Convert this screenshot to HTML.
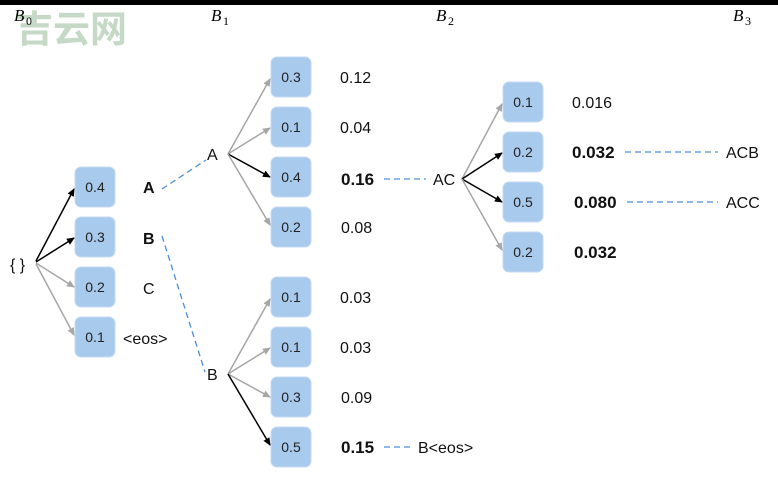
<!DOCTYPE html><html><head><style>body{margin:0;background:#fff}svg{display:block}</style></head><body>
<svg width="778" height="500" viewBox="0 0 778 500" xmlns="http://www.w3.org/2000/svg" font-family="Liberation Sans, sans-serif">
<defs>
<marker id="k" markerWidth="8" markerHeight="8" refX="7" refY="4" orient="auto" markerUnits="userSpaceOnUse"><path d="M0,0.5 L8,4 L0,7.5z" fill="#000"/></marker>
<marker id="g" markerWidth="8" markerHeight="8" refX="7" refY="4" orient="auto" markerUnits="userSpaceOnUse"><path d="M0,0.5 L8,4 L0,7.5z" fill="#a6a6a6"/></marker>
</defs>
<rect x="0" y="0" width="778" height="5" fill="#000"/>
<text x="16" y="42" font-family="Noto Sans CJK SC, sans-serif" font-size="37" font-weight="bold" fill="#c5d9c6" letter-spacing="0">吉云网</text>
<g font-family="Liberation Serif, serif" font-style="italic" font-size="17">
<text x="14" y="21">B</text><text x="26" y="25" font-size="12" font-style="normal">0</text>
<text x="211" y="21">B</text><text x="223" y="25" font-size="12" font-style="normal">1</text>
<text x="436" y="21">B</text><text x="448" y="25" font-size="12" font-style="normal">2</text>
<text x="733" y="21">B</text><text x="745" y="25" font-size="12" font-style="normal">3</text>
</g>
<g stroke-width="1.5" fill="none">
<line x1="36" y1="261" x2="74" y2="189" stroke="#000" marker-end="url(#k)"/>
<line x1="36" y1="262" x2="74" y2="238" stroke="#000" marker-end="url(#k)"/>
<line x1="36" y1="263" x2="74" y2="287" stroke="#a6a6a6" marker-end="url(#g)"/>
<line x1="36" y1="264" x2="74" y2="335" stroke="#a6a6a6" marker-end="url(#g)"/>
<line x1="228" y1="154" x2="270" y2="79" stroke="#a6a6a6" marker-end="url(#g)"/>
<line x1="228" y1="154" x2="270" y2="128" stroke="#a6a6a6" marker-end="url(#g)"/>
<line x1="228" y1="154" x2="270" y2="177" stroke="#000" marker-end="url(#k)"/>
<line x1="228" y1="154" x2="270" y2="225" stroke="#a6a6a6" marker-end="url(#g)"/>
<line x1="228" y1="374" x2="270" y2="299" stroke="#a6a6a6" marker-end="url(#g)"/>
<line x1="228" y1="374" x2="270" y2="348" stroke="#a6a6a6" marker-end="url(#g)"/>
<line x1="228" y1="374" x2="270" y2="397" stroke="#a6a6a6" marker-end="url(#g)"/>
<line x1="228" y1="374" x2="270" y2="445" stroke="#000" marker-end="url(#k)"/>
<line x1="462" y1="179" x2="502" y2="104" stroke="#a6a6a6" marker-end="url(#g)"/>
<line x1="462" y1="179" x2="502" y2="153" stroke="#000" marker-end="url(#k)"/>
<line x1="462" y1="179" x2="502" y2="202" stroke="#000" marker-end="url(#k)"/>
<line x1="462" y1="179" x2="502" y2="250" stroke="#a6a6a6" marker-end="url(#g)"/>
</g>
<g stroke="#4a8fd9" stroke-width="1.3" stroke-dasharray="6,4" fill="none">
<line x1="162" y1="189" x2="206" y2="160"/>
<line x1="162" y1="236" x2="205" y2="372"/>
<line x1="384" y1="179" x2="426" y2="179"/>
<line x1="625" y1="152" x2="718" y2="152"/>
<line x1="627" y1="202" x2="718" y2="202"/>
<line x1="384" y1="447" x2="412" y2="447"/>
</g>
<g fill="#a8caec" stroke="#c4dbf3" stroke-width="1">
<rect x="75" y="167" width="40" height="40" rx="6"/><rect x="75" y="217" width="40" height="40" rx="6"/><rect x="75" y="267" width="40" height="40" rx="6"/><rect x="75" y="317" width="40" height="40" rx="6"/>
<rect x="271" y="57" width="40" height="40" rx="6"/><rect x="271" y="107" width="40" height="40" rx="6"/><rect x="271" y="157" width="40" height="40" rx="6"/><rect x="271" y="207" width="40" height="40" rx="6"/>
<rect x="271" y="277" width="40" height="40" rx="6"/><rect x="271" y="327" width="40" height="40" rx="6"/><rect x="271" y="377" width="40" height="40" rx="6"/><rect x="271" y="427" width="40" height="40" rx="6"/>
<rect x="503" y="82" width="40" height="40" rx="6"/><rect x="503" y="132" width="40" height="40" rx="6"/><rect x="503" y="182" width="40" height="40" rx="6"/><rect x="503" y="232" width="40" height="40" rx="6"/>
</g>
<g font-size="14" text-anchor="middle" fill="#222">
<text x="95" y="192">0.4</text><text x="95" y="242">0.3</text><text x="95" y="292">0.2</text><text x="95" y="342">0.1</text>
<text x="291" y="82">0.3</text><text x="291" y="132">0.1</text><text x="291" y="182">0.4</text><text x="291" y="232">0.2</text>
<text x="291" y="302">0.1</text><text x="291" y="352">0.1</text><text x="291" y="402">0.3</text><text x="291" y="452">0.5</text>
<text x="523" y="107">0.1</text><text x="523" y="157">0.2</text><text x="523" y="207">0.5</text><text x="523" y="257">0.2</text>
</g>
<g font-size="16" fill="#111">
<text x="10" y="270">{ }</text>
<text x="143" y="193" font-weight="bold">A</text>
<text x="143" y="244" font-weight="bold">B</text>
<text x="143" y="294">C</text>
<text x="123" y="344">&lt;eos&gt;</text>
<text x="207" y="160">A</text>
<text x="207" y="380">B</text>
<text x="433" y="185">AC</text>
<text x="340" y="83">0.12</text><text x="340" y="133">0.04</text><text x="341" y="185" font-weight="bold" font-size="17">0.16</text><text x="341" y="233">0.08</text>
<text x="340" y="303">0.03</text><text x="340" y="353">0.03</text><text x="341" y="403">0.09</text><text x="341" y="453" font-weight="bold" font-size="17">0.15</text>
<text x="418" y="453">B&lt;eos&gt;</text>
<text x="572" y="108">0.016</text><text x="572" y="158" font-weight="bold" font-size="17">0.032</text><text x="574" y="208" font-weight="bold" font-size="17">0.080</text><text x="574" y="258" font-weight="bold" font-size="17">0.032</text>
<text x="726" y="158">ACB</text><text x="726" y="208">ACC</text>
</g>
</svg>
</body></html>
